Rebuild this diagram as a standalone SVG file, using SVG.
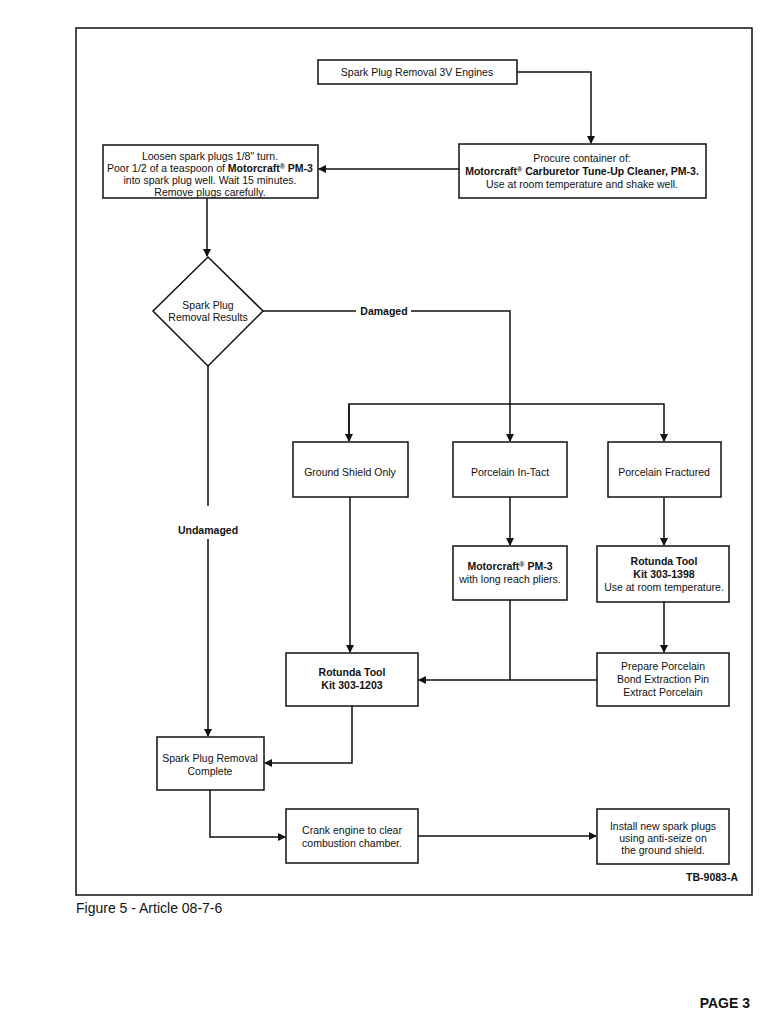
<svg xmlns="http://www.w3.org/2000/svg" width="777" height="1024" viewBox="0 0 777 1024">
<style>
.box{fill:#fff;stroke:#111;stroke-width:1.5}
.t{font-family:"Liberation Sans",Arial,sans-serif;font-size:10.5px;fill:#111;text-anchor:middle}
.b{font-weight:bold}
.c{fill:none;stroke:#111;stroke-width:1.5}
</style>
<defs>
<marker id="ah" markerWidth="8" markerHeight="8" refX="7" refY="4" orient="auto" markerUnits="userSpaceOnUse">
<path d="M0,0 L8,4 L0,8 Z" fill="#111"/>
</marker>
</defs>
<rect width="777" height="1024" fill="#fff"/>
<rect x="76" y="28" width="676" height="867" fill="none" stroke="#111" stroke-width="1.5"/>

<g id="connectors">
<path class="c" d="M517,72 H591 V143" marker-end="url(#ah)"/>
<path class="c" d="M459,169 H319" marker-end="url(#ah)"/>
<path class="c" d="M207,198 V256" marker-end="url(#ah)"/>
<path class="c" d="M263,311 H356"/>
<path class="c" d="M411,311 H510 V441" marker-end="url(#ah)"/>
<path class="c" d="M349,441 V404 H664 V441" marker-end="url(#ah)"/>
<path class="c" d="M349,404 V441" marker-end="url(#ah)"/>
<path class="c" d="M208,366 V506"/>
<path class="c" d="M208,539 V736" marker-end="url(#ah)"/>
<path class="c" d="M350,497 V652" marker-end="url(#ah)"/>
<path class="c" d="M510,497 V545" marker-end="url(#ah)"/>
<path class="c" d="M664,497 V545" marker-end="url(#ah)"/>
<path class="c" d="M510,600 V680"/>
<path class="c" d="M664,602 V652" marker-end="url(#ah)"/>
<path class="c" d="M597,680 H419" marker-end="url(#ah)"/>
<path class="c" d="M352,706 V763 H265" marker-end="url(#ah)"/>
<path class="c" d="M210,790 V837 H285" marker-end="url(#ah)"/>
<path class="c" d="M418,836 H596" marker-end="url(#ah)"/>
<text class="t b" x="384" y="315">Damaged</text>
<text class="t b" x="208" y="534">Undamaged</text>
</g>

<g id="start">
<rect class="box" x="318" y="60" width="199" height="24"/>
<text class="t" x="417" y="76">Spark Plug Removal 3V Engines</text>
</g>

<g id="procure">
<rect class="box" x="459" y="144" width="247" height="54"/>
<text class="t" x="582" y="162">Procure container of:</text>
<text class="t b" x="582" y="175">Motorcraft<tspan font-size="7" dy="-3">®</tspan><tspan dy="3"> Carburetor Tune-Up Cleaner, PM-3.</tspan></text>
<text class="t" x="582" y="188">Use at room temperature and shake well.</text>
</g>

<g id="loosen">
<rect class="box" x="103" y="145" width="215" height="53"/>
<text class="t" x="210" y="160">Loosen spark plugs 1/8" turn.</text>
<text class="t" x="210" y="172">Poor 1/2 of a teaspoon of <tspan class="b">Motorcraft</tspan><tspan class="b" font-size="7" dy="-3">®</tspan><tspan class="b" dy="3"> PM-3</tspan></text>
<text class="t" x="210" y="184">into spark plug well. Wait 15 minutes.</text>
<text class="t" x="210" y="196">Remove plugs carefully.</text>
</g>

<g id="decision">
<polygon class="box" points="208,257 263,311 208,366 153,311"/>
<text class="t" x="208" y="309">Spark Plug</text>
<text class="t" x="208" y="321">Removal Results</text>
</g>

<g id="ground-shield">
<rect class="box" x="293" y="442" width="115" height="55"/>
<text class="t" x="350" y="476">Ground Shield Only</text>
</g>

<g id="porcelain-intact">
<rect class="box" x="453" y="442" width="114" height="55"/>
<text class="t" x="510" y="476">Porcelain In-Tact</text>
</g>

<g id="porcelain-fractured">
<rect class="box" x="608" y="442" width="113" height="55"/>
<text class="t" x="664" y="476">Porcelain Fractured</text>
</g>

<g id="pm3">
<rect class="box" x="453" y="546" width="114" height="54"/>
<text class="t b" x="510" y="570">Motorcraft<tspan font-size="7" dy="-3">®</tspan><tspan dy="3"> PM-3</tspan></text>
<text class="t" x="510" y="583">with long reach pliers.</text>
</g>

<g id="rotunda-1398">
<rect class="box" x="597" y="546" width="132" height="56"/>
<text class="t b" x="664" y="565">Rotunda Tool</text>
<text class="t b" x="664" y="578">Kit 303-1398</text>
<text class="t" x="664" y="591">Use at room temperature.</text>
</g>

<g id="prepare">
<rect class="box" x="597" y="653" width="132" height="53"/>
<text class="t" x="663" y="670">Prepare Porcelain</text>
<text class="t" x="663" y="683">Bond Extraction Pin</text>
<text class="t" x="663" y="696">Extract Porcelain</text>
</g>

<g id="rotunda-1203">
<rect class="box" x="286" y="653" width="132" height="53"/>
<text class="t b" x="352" y="676">Rotunda Tool</text>
<text class="t b" x="352" y="689">Kit 303-1203</text>
</g>

<g id="complete">
<rect class="box" x="157" y="737" width="107" height="53"/>
<text class="t" x="210" y="762">Spark Plug Removal</text>
<text class="t" x="210" y="775">Complete</text>
</g>

<g id="crank">
<rect class="box" x="286" y="809" width="132" height="54"/>
<text class="t" x="352" y="834">Crank engine to clear</text>
<text class="t" x="352" y="847">combustion chamber.</text>
</g>

<g id="install">
<rect class="box" x="597" y="809" width="132" height="55"/>
<text class="t" x="663" y="830">Install new spark plugs</text>
<text class="t" x="663" y="842">using anti-seize on</text>
<text class="t" x="663" y="854">the ground shield.</text>
</g>

<text class="t b" x="738" y="881" style="text-anchor:end">TB-9083-A</text>
<text x="76" y="913" style="font-family:'Liberation Sans',Arial,sans-serif;font-size:14px;fill:#111">Figure 5 - Article 08-7-6</text>
<text x="750" y="1008" style="font-family:'Liberation Sans',Arial,sans-serif;font-size:14px;font-weight:bold;fill:#111;text-anchor:end">PAGE 3</text>
</svg>
